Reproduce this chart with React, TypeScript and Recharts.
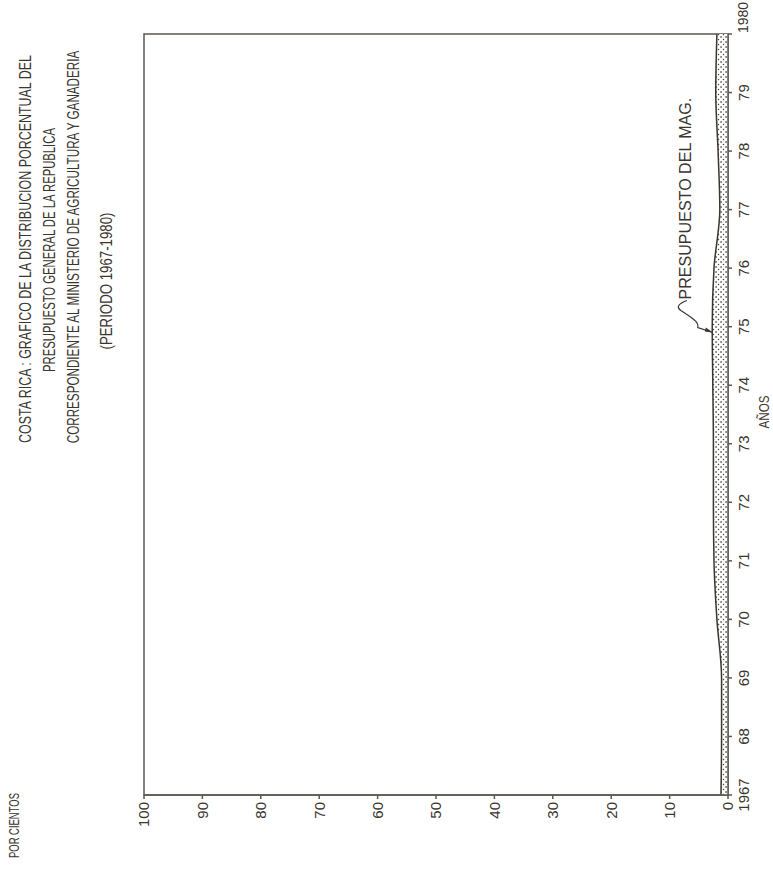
import React, { useLayoutEffect, useRef, useState } from "react";
import {
  AreaChart,
  Area,
  XAxis,
  YAxis,
  ReferenceArea,
  ReferenceDot,
} from "recharts";

// ---- data ----
const years = [1967, 1968, 1969, 1970, 1971, 1972, 1973, 1974, 1975, 1976, 1977, 1978, 1979, 1980];
const yearLabels = ["1967", "68", "69", "70", "71", "72", "73", "74", "75", "76", "77", "78", "79", "1980"];
const magShare = [1.2, 1.1, 1.1, 1.9, 2.4, 2.5, 2.5, 2.6, 2.7, 2.4, 1.4, 1.7, 2.1, 1.9];
const percentTicks = [0, 10, 20, 30, 40, 50, 60, 70, 80, 90, 100];
const titleLines = [
  "COSTA RICA : GRAFICO DE LA DISTRIBUCION PORCENTUAL DEL",
  "PRESUPUESTO GENERAL DE LA REPUBLICA",
  "CORRESPONDIENTE AL MINISTERIO DE AGRICULTURA Y GANADERIA",
  "(PERIODO 1967-1980)",
];
const yAxisTitle = "POR CIENTOS";
const xAxisTitle = "AÑOS";
const seriesLabel = "PRESUPUESTO DEL MAG.";
const annotationYear = 1974.9;
const annotationValue = 2.6;

const data = years.map((year, i) => ({ year, mag: magShare[i] }));

const W = 878;
const H = 773;
const INK = "#3b352f";
const LINE = "#5e5750";
const TICK_FONT = "'Liberation Sans', Arial, sans-serif";
const TITLE_FONT = "'Liberation Sans', Arial, sans-serif";

// Text squeezed horizontally to a given length (hand-lettered condensed look)
const FitText = (props: any) => {
  const { x, y, length, anchor = "start", fontSize = 15, children } = props;
  const ref = useRef<SVGTextElement>(null);
  const [sx, setSx] = useState(1);
  useLayoutEffect(() => {
    const el = ref.current;
    if (el) {
      const w = el.getComputedTextLength();
      if (w > 0) setSx(length / w);
    }
  }, [length, children, fontSize]);
  return (
    <g transform={`translate(${x},${y}) scale(${sx},1)`}>
      <text
        ref={ref}
        x={0}
        y={0}
        textAnchor={anchor}
        fontSize={fontSize}
        fontFamily={TITLE_FONT}
        fill={INK}
      >
        {children}
      </text>
    </g>
  );
};

const XTick = (props: any) => {
  const { x, y, payload } = props;
  const idx = years.indexOf(payload.value);
  const label = idx >= 0 ? yearLabels[idx] : String(payload.value);
  const isLast = idx === years.length - 1;
  return (
    <text
      x={isLast ? x + 1 : x}
      y={y}
      dy="0.71em"
      textAnchor={isLast ? "start" : "middle"}
      fontSize={isLast ? 14 : 15}
      fontFamily={TICK_FONT}
      fill={INK}
    >
      {label}
    </text>
  );
};

const YTick = (props: any) => {
  const { x, y, payload } = props;
  return (
    <text
      x={x}
      y={y}
      dy="0.355em"
      textAnchor="end"
      fontSize={15}
      fontFamily={TICK_FONT}
      fill={INK}
    >
      {payload.value}
    </text>
  );
};

const Annotation = (props: any) => {
  const { cx, cy } = props;
  if (cx == null || cy == null) return null;
  return (
    <g>
      <path
        d={`M ${cx + 32} ${cy - 26} Q ${cx + 27} ${cy - 39} ${cx + 22} ${cy - 32} Q ${cx + 17} ${cy - 24} ${cx + 13} ${cy - 19} Q ${cx + 9} ${cy - 14} ${cx + 5} ${cy - 15} L ${cx} ${cy}`}
        fill="none"
        stroke={INK}
        strokeWidth={1.2}
      />
      <path d={`M ${cx} ${cy} L ${cx + 5} ${cy - 7} L ${cx + 1} ${cy - 8} Z`} fill={INK} />
      <FitText x={cx + 33} y={cy - 22} length={202} fontSize={16}>
        {seriesLabel}
      </FitText>
    </g>
  );
};

export default function App() {
  return (
    <div style={{ position: "absolute", left: 0, top: 0, width: 773, height: 878, overflow: "hidden", background: "#fff" }}>
      <style>{`body{margin:0;overflow:hidden;background:#fff}`}</style>
      <div
        style={{
          position: "absolute",
          left: 0,
          top: 0,
          width: W,
          height: H,
          transformOrigin: "0 0",
          transform: `translateY(${W}px) rotate(-90deg)`,
        }}
      >
        <AreaChart
          width={W}
          height={H}
          data={data}
          margin={{ top: 144, right: 34, bottom: 15, left: 43 }}
        >
          <defs>
            <pattern id="stipple" width="5" height="5" patternUnits="userSpaceOnUse">
              <rect width="5" height="5" fill="#ffffff" />
              <circle cx="1" cy="1" r="0.85" fill="#3b352f" />
              <circle cx="3.5" cy="3.5" r="0.75" fill="#4a443e" />
            </pattern>
          </defs>
          <XAxis
            dataKey="year"
            type="number"
            domain={[1967, 1980]}
            ticks={years}
            interval={0}
            height={30}
            tickSize={4}
            tickMargin={6}
            stroke={LINE}
            strokeWidth={1.5}
            tick={<XTick />}
          />
          <YAxis
            type="number"
            domain={[0, 100]}
            ticks={percentTicks}
            interval={0}
            width={40}
            tickSize={4}
            tickMargin={3}
            stroke={LINE}
            strokeWidth={1.5}
            tick={<YTick />}
          />
          <ReferenceArea
            x1={1967}
            x2={1980}
            y1={0}
            y2={100}
            fill="none"
            fillOpacity={0}
            stroke={LINE}
            strokeWidth={1.5}
          />
          <Area
            type="monotone"
            dataKey="mag"
            stroke={INK}
            strokeWidth={1.5}
            fill="url(#stipple)"
            fillOpacity={1}
            dot={false}
            activeDot={false}
            isAnimationActive={false}
          />
          <ReferenceDot
            x={annotationYear}
            y={annotationValue}
            r={2}
            shape={<Annotation />}
          />
        </AreaChart>
        <svg
          width={W}
          height={H}
          style={{ position: "absolute", left: 0, top: 0, pointerEvents: "none" }}
        >
          <FitText x={629} y={31} anchor="middle" fontSize={16.5} length={388}>
            {titleLines[0]}
          </FitText>
          <FitText x={628} y={55} anchor="middle" fontSize={16.5} length={244}>
            {titleLines[1]}
          </FitText>
          <FitText x={631} y={79} anchor="middle" fontSize={16.5} length={393}>
            {titleLines[2]}
          </FitText>
          <FitText x={597} y={112} anchor="middle" fontSize={16.5} length={137}>
            {titleLines[3]}
          </FitText>
          <FitText x={20} y={19} anchor="start" fontSize={15.5} length={65}>
            {yAxisTitle}
          </FitText>
          <FitText x={466} y={769} anchor="middle" fontSize={15.5} length={33}>
            {xAxisTitle}
          </FitText>
        </svg>
      </div>
    </div>
  );
}
